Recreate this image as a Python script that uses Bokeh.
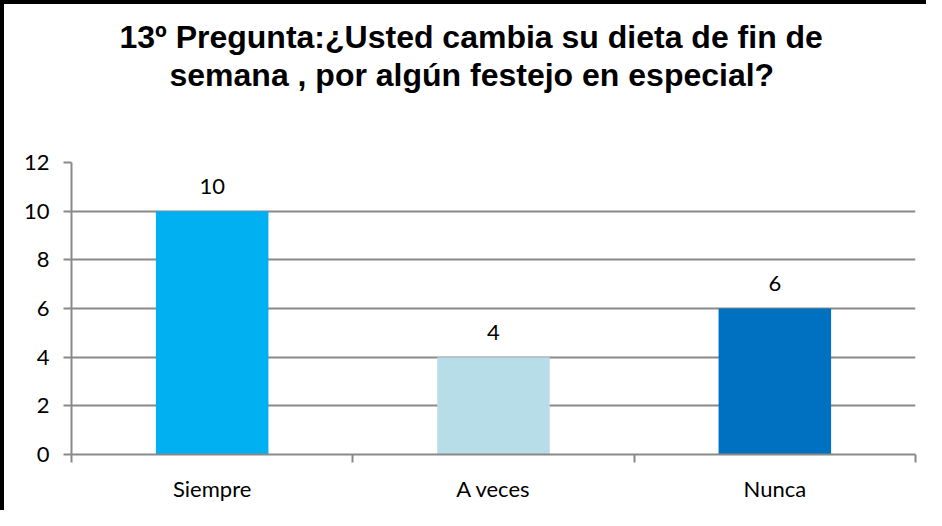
from bokeh.plotting import figure
from bokeh.models import Range1d, FixedTicker, Title, ColumnDataSource
from bokeh.core.properties import value
from bokeh.embed import file_html
from bokeh.resources import INLINE

categories = ["Siempre", "A veces", "Nunca"]
counts = [10, 4, 6]
colors = ["#00B0F0", "#B7DEE8", "#0070C0"]
y_ticks = [0, 2, 4, 6, 8, 10, 12]
title_lines = ["13º  Pregunta:¿Usted cambia su dieta de fin de",
               "semana , por algún festejo en especial?"]

xs = list(range(1, len(categories) + 1))
src = ColumnDataSource(dict(x=xs, top=counts, color=colors,
                            label=[str(c) for c in counts]))

GRAY = "#898989"
TICK_FONT = "Lato"

p = figure(width=926, height=510,
           x_range=Range1d(0.5, len(categories) + 0.5),
           y_range=Range1d(0, 12),
           min_border_left=71, min_border_right=11,
           min_border_top=162, min_border_bottom=56,
           output_backend="svg", toolbar_location=None)
p.styles = {"box-shadow": "inset 4px 4px 0 0 black", "background": "white"}
p.outline_line_color = None
p.background_fill_color = "white"
p.border_fill_color = "white"
p.border_fill_alpha = 0

p.vbar(x="x", top="top", width=0.4, color="color", source=src, line_color=None)
p.text(x="x", y="top", text="label", source=src, text_align="center",
       text_baseline="alphabetic", y_offset=-25,
       text_font=value(TICK_FONT), text_font_size="22px", text_color="black")

# x axis
xa = p.xaxis[0]
xa.ticker = FixedTicker(ticks=xs, minor_ticks=[x - 0.5 for x in xs] + [xs[-1] + 0.5])
xa.major_label_overrides = {x: c for x, c in zip(xs, categories)}
xa.major_tick_line_color = None
xa.major_tick_out = 0
xa.major_tick_in = 0
xa.minor_tick_line_color = GRAY
xa.minor_tick_line_width = 2
xa.minor_tick_out = 8
xa.minor_tick_in = 0
xa.axis_line_color = GRAY
xa.axis_line_width = 2
xa.major_label_standoff = 12
xa.major_label_text_font = TICK_FONT
xa.major_label_text_font_size = "22px"
xa.major_label_text_color = "black"

# y axis
ya = p.yaxis[0]
ya.ticker = FixedTicker(ticks=y_ticks)
ya.minor_tick_line_color = None
ya.major_tick_line_color = GRAY
ya.major_tick_line_width = 2
ya.major_tick_out = 8
ya.major_tick_in = 0
ya.axis_line_color = GRAY
ya.axis_line_width = 2
ya.major_label_standoff = 14
ya.major_label_text_font = TICK_FONT
ya.major_label_text_font_size = "22px"
ya.major_label_text_color = "black"

p.xgrid.grid_line_color = None
p.ygrid.ticker = FixedTicker(ticks=y_ticks)
p.ygrid.grid_line_color = GRAY
p.ygrid.grid_line_width = 2

# title: blank spacer nearest the frame, then line 2, then line 1
p.add_layout(Title(text=" ", text_font="Liberation Sans", text_font_size="10px",
                   text_color="white", standoff=57), "above")
for line, off in zip(reversed(title_lines), [98, 48]):
    p.add_layout(Title(text=line, align="left", offset=off, standoff=0,
                       text_font="Liberation Sans", text_font_style="bold",
                       text_font_size="32px", text_color="black"), "above")

open("out.html", "w").write(file_html(p, INLINE))
